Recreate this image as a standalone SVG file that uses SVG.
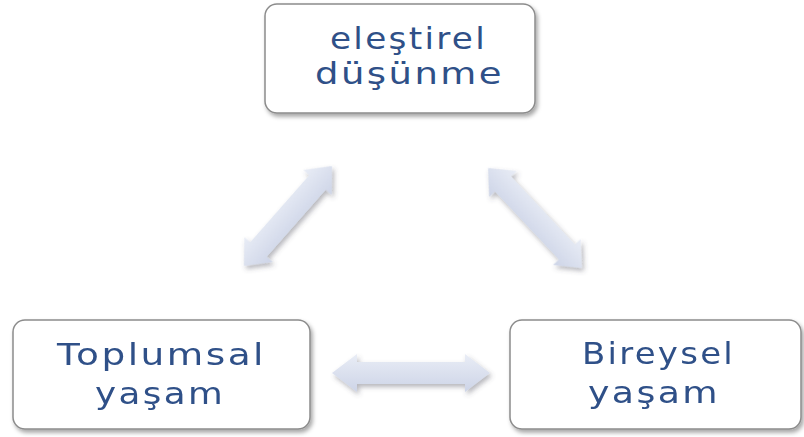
<svg xmlns="http://www.w3.org/2000/svg" width="804" height="437" viewBox="0 0 804 437">
<style>
.box{fill:#ffffff;stroke:#8c8c8c;stroke-width:1.5;}
.lbl{font-family:"DejaVu Sans","Verdana",sans-serif;font-size:30px;letter-spacing:2px;fill:#2f5088;}
.arr{fill:url(#ag);}
</style>
<defs>
<filter id="sh" x="-10%" y="-10%" width="125%" height="135%">
<feDropShadow dx="2" dy="3" stdDeviation="2" flood-color="#000" flood-opacity="0.35"/>
</filter>
<filter id="ash" x="-20%" y="-40%" width="140%" height="190%">
<feDropShadow dx="2" dy="3" stdDeviation="2.5" flood-color="#4a4a5a" flood-opacity="0.4"/>
</filter>
<linearGradient id="ag" x1="0" y1="0" x2="0" y2="1">
<stop offset="0" stop-color="#e9edf6"/>
<stop offset="1" stop-color="#cdd4e7"/>
</linearGradient>
</defs>
<g id="connectors" filter="url(#ash)">
<polygon class="arr" transform="translate(411,373)" points="-79,0 -54,-19 -54,-11 54,-11 54,-19 79,0 54,19 54,11 -54,11 -54,19"/>
<polygon class="arr" transform="translate(288,216) rotate(-48.65)" points="-66.6,0 -44.6,-19 -44.6,-11 44.6,-11 44.6,-19 66.6,0 44.6,19 44.6,11 -44.6,11 -44.6,19"/>
<polygon class="arr" transform="translate(535,218) rotate(46.8)" points="-68.6,0 -46.6,-19 -46.6,-11 46.6,-11 46.6,-19 68.6,0 46.6,19 46.6,11 -46.6,11 -46.6,19"/>
</g>
<g id="node-elestirel">
<rect class="box" x="265" y="4" width="270" height="109" rx="12" filter="url(#sh)"/>
<text class="lbl" x="330" y="49" textLength="157" lengthAdjust="spacingAndGlyphs">eleştirel</text>
<text class="lbl" x="315" y="84" textLength="189" lengthAdjust="spacingAndGlyphs">düşünme</text>
</g>
<g id="node-toplumsal">
<rect class="box" x="13" y="320" width="297" height="109" rx="12" filter="url(#sh)"/>
<text class="lbl" x="57" y="365" textLength="209" lengthAdjust="spacingAndGlyphs">Toplumsal</text>
<text class="lbl" x="95" y="404" textLength="130" lengthAdjust="spacingAndGlyphs">yaşam</text>
</g>
<g id="node-bireysel">
<rect class="box" x="510" y="320" width="291" height="109" rx="12" filter="url(#sh)"/>
<text class="lbl" x="582" y="364" textLength="153" lengthAdjust="spacingAndGlyphs">Bireysel</text>
<text class="lbl" x="588" y="403" textLength="132" lengthAdjust="spacingAndGlyphs">yaşam</text>
</g>
</svg>
